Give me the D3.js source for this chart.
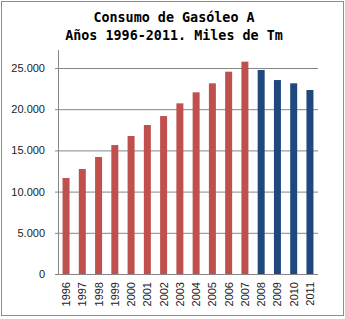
<!DOCTYPE html>
<html>
<head>
<meta charset="utf-8">
<script src="https://d3js.org/d3.v7.min.js"></script>
<style>
  body { margin: 0; background: #fff; }
</style>
</head>
<body>
<div id="chart"></div>
<script>
// Consumo de gasóleo A, miles de Tm
const years = ["1996", "1997", "1998", "1999", "2000", "2001", "2002", "2003",
               "2004", "2005", "2006", "2007", "2008", "2009", "2010", "2011"];
const consumo = [11650, 12740, 14200, 15650, 16750, 18080, 19170, 20710,
                 22050, 23140, 24550, 25770, 24760, 23540, 23140, 22330];
const yTicks = [0, 5000, 10000, 15000, 20000, 25000];
const titleLines = ["Consumo de Gasóleo A", "Años 1996-2011. Miles de Tm"];

const width = 345;
const height = 319;

const svg = d3.select("#chart")
    .append("svg")
    .attr("width", width)
    .attr("height", height);

// outer border of the chart
svg.append("rect")
    .attr("x", 1.5).attr("y", 1.5)
    .attr("width", 342).attr("height", 314)
    .attr("fill", "#fff")
    .attr("stroke", "#8c8c8c");

// title
svg.selectAll("text.title")
    .data(titleLines)
    .enter()
    .append("text")
    .attr("class", "title")
    .attr("x", 174)
    .attr("y", (d, i) => 22 + i * 18)
    .attr("text-anchor", "middle")
    .style("font-family", "'DejaVu Sans Mono', monospace")
    .style("font-weight", "bold")
    .style("font-size", "13.4px")
    .text(d => d);

const plotLeft = 58, plotRight = 318, plotTop = 50, plotBottom = 274;

const x = d3.scaleBand()
    .domain(years)
    .range([plotLeft, plotRight])
    .paddingInner(0.57)
    .paddingOuter(0.28);

const y = d3.scaleLinear()
    .domain([0, 25000])
    .range([plotBottom, 68]);

// gridlines
svg.selectAll("line.grid")
    .data(yTicks.filter(d => d > 0))
    .enter()
    .append("line")
    .attr("class", "grid")
    .attr("x1", plotLeft - 3)
    .attr("x2", plotRight)
    .attr("y1", d => y(d) + 0.5)
    .attr("y2", d => y(d) + 0.5)
    .attr("stroke", "#868686")
    .attr("stroke-width", 1);

// y tick labels
const fmt = d3.formatLocale({ decimal: ",", thousands: ".", grouping: [3], currency: ["", ""] }).format(",");
svg.selectAll("text.ytick")
    .data(yTicks)
    .enter()
    .append("text")
    .attr("class", "ytick")
    .attr("x", 45)
    .attr("y", d => y(d) + 4)
    .attr("text-anchor", "end")
    .style("font-family", "'Liberation Sans', Arial, sans-serif")
    .style("font-size", "11px")
    .style("fill", "#222")
    .text(d => fmt(d));

// bars: red up to 2007, blue after
svg.selectAll("rect.bar")
    .data(years)
    .enter()
    .append("rect")
    .attr("class", "bar")
    .attr("x", d => x(d))
    .attr("y", (d, i) => y(consumo[i]))
    .attr("width", x.bandwidth())
    .attr("height", (d, i) => plotBottom - y(consumo[i]))
    .attr("fill", d => +d <= 2007 ? "#c0504d" : "#1f497d");

// axes lines
svg.append("line")
    .attr("x1", plotLeft + 0.5).attr("x2", plotLeft + 0.5)
    .attr("y1", plotTop).attr("y2", plotBottom)
    .attr("stroke", "#868686");
svg.append("line")
    .attr("x1", plotLeft - 3).attr("x2", plotRight)
    .attr("y1", plotBottom + 0.5).attr("y2", plotBottom + 0.5)
    .attr("stroke", "#868686");

// x tick labels, rotated
svg.selectAll("text.xtick")
    .data(years)
    .enter()
    .append("text")
    .attr("class", "xtick")
    .attr("transform", d => `translate(${x(d) + x.bandwidth() / 2 + 4},${plotBottom + 8}) rotate(-90)`)
    .attr("text-anchor", "end")
    .style("font-family", "'Liberation Sans', Arial, sans-serif")
    .style("font-size", "11px")
    .style("fill", "#222")
    .text(d => d);
</script>
</body>
</html>
